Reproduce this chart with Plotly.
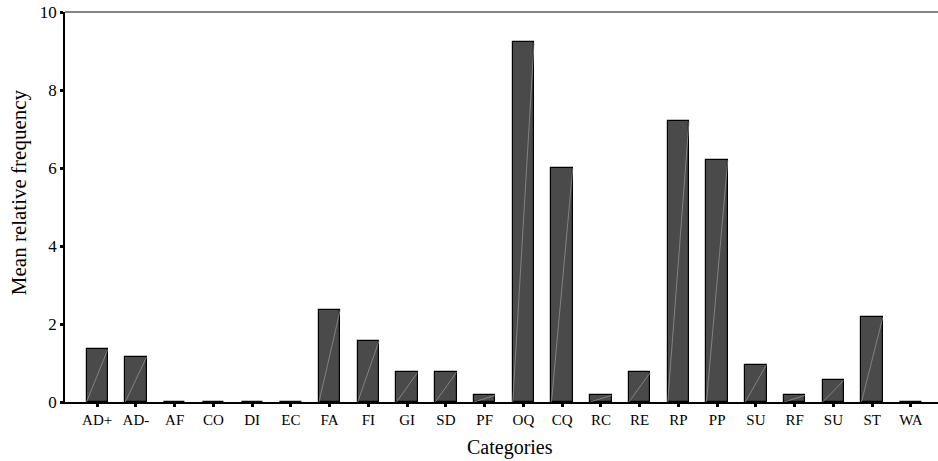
import plotly.graph_objects as go

categories = ["AD+", "AD-", "AF", "CO", "DI", "EC", "FA", "FI", "GI", "SD", "PF",
              "OQ", "CQ", "RC", "RE", "RP", "PP", "SU", "RF", "SU", "ST", "WA"]
values = [1.35, 1.15, 0.0, 0.0, 0.0, 0.0, 2.37, 1.57, 0.76, 0.76, 0.17,
          9.22, 6.0, 0.17, 0.76, 7.2, 6.2, 0.96, 0.17, 0.56, 2.17, 0.0]
y_ticks = [0, 2, 4, 6, 8, 10]

positions = list(range(len(categories)))
bar_width = 0.55

# diagonal highlight lines inside each bar (bottom-left to top-right)
dx, dy = [], []
for p, v in zip(positions, values):
    if v > 0:
        dx += [p - bar_width / 2, p + bar_width / 2, None]
        dy += [0, v, None]

fig = go.Figure()
fig.add_trace(go.Bar(
    x=positions, y=values, width=bar_width,
    marker=dict(color="#4a4a4a", line=dict(color="#000000", width=1.2)),
    showlegend=False, hoverinfo="x+y",
))
fig.add_trace(go.Scatter(
    x=dx, y=dy, mode="lines",
    line=dict(color="#9a9a9a", width=0.7),
    showlegend=False, hoverinfo="skip",
))

fig.update_layout(
    width=938, height=461,
    margin=dict(l=65, r=0, t=12, b=59),
    paper_bgcolor="white", plot_bgcolor="white",
    font=dict(family="Liberation Serif, Times New Roman, serif", color="#000000", size=15),
    bargap=0,
    shapes=[dict(type="line", xref="paper", yref="paper", x0=0, x1=1, y0=1, y1=1,
                 line=dict(color="#5a5a5a", width=1.5))],
    annotations=[
        dict(text="Mean relative frequency", xref="paper", yref="paper",
             x=-0.0527, y=0.538, xanchor="center", yanchor="middle",
             textangle=-90, showarrow=False, font=dict(size=21)),
        dict(text="Categories", xref="paper", yref="paper",
             x=0.5097, y=-0.117, xanchor="center", yanchor="middle",
             showarrow=False, font=dict(size=20)),
    ],
)
fig.update_xaxes(
    range=[-0.83, 21.7],
    tickmode="array", tickvals=positions, ticktext=categories,
    showgrid=False, zeroline=False,
    showline=True, linecolor="#000000", linewidth=1.5,
    ticks="outside", ticklen=3, tickwidth=3, tickcolor="#000000",
    tickfont=dict(size=15),
)
fig.update_yaxes(
    range=[0, 10],
    tickmode="array", tickvals=y_ticks, ticktext=[str(t) for t in y_ticks],
    showgrid=False, zeroline=False,
    showline=True, linecolor="#000000", linewidth=1.5,
    ticks="outside", ticklen=3, tickwidth=3, tickcolor="#000000",
    tickfont=dict(size=17),
)

fig.write_html("out.html")
